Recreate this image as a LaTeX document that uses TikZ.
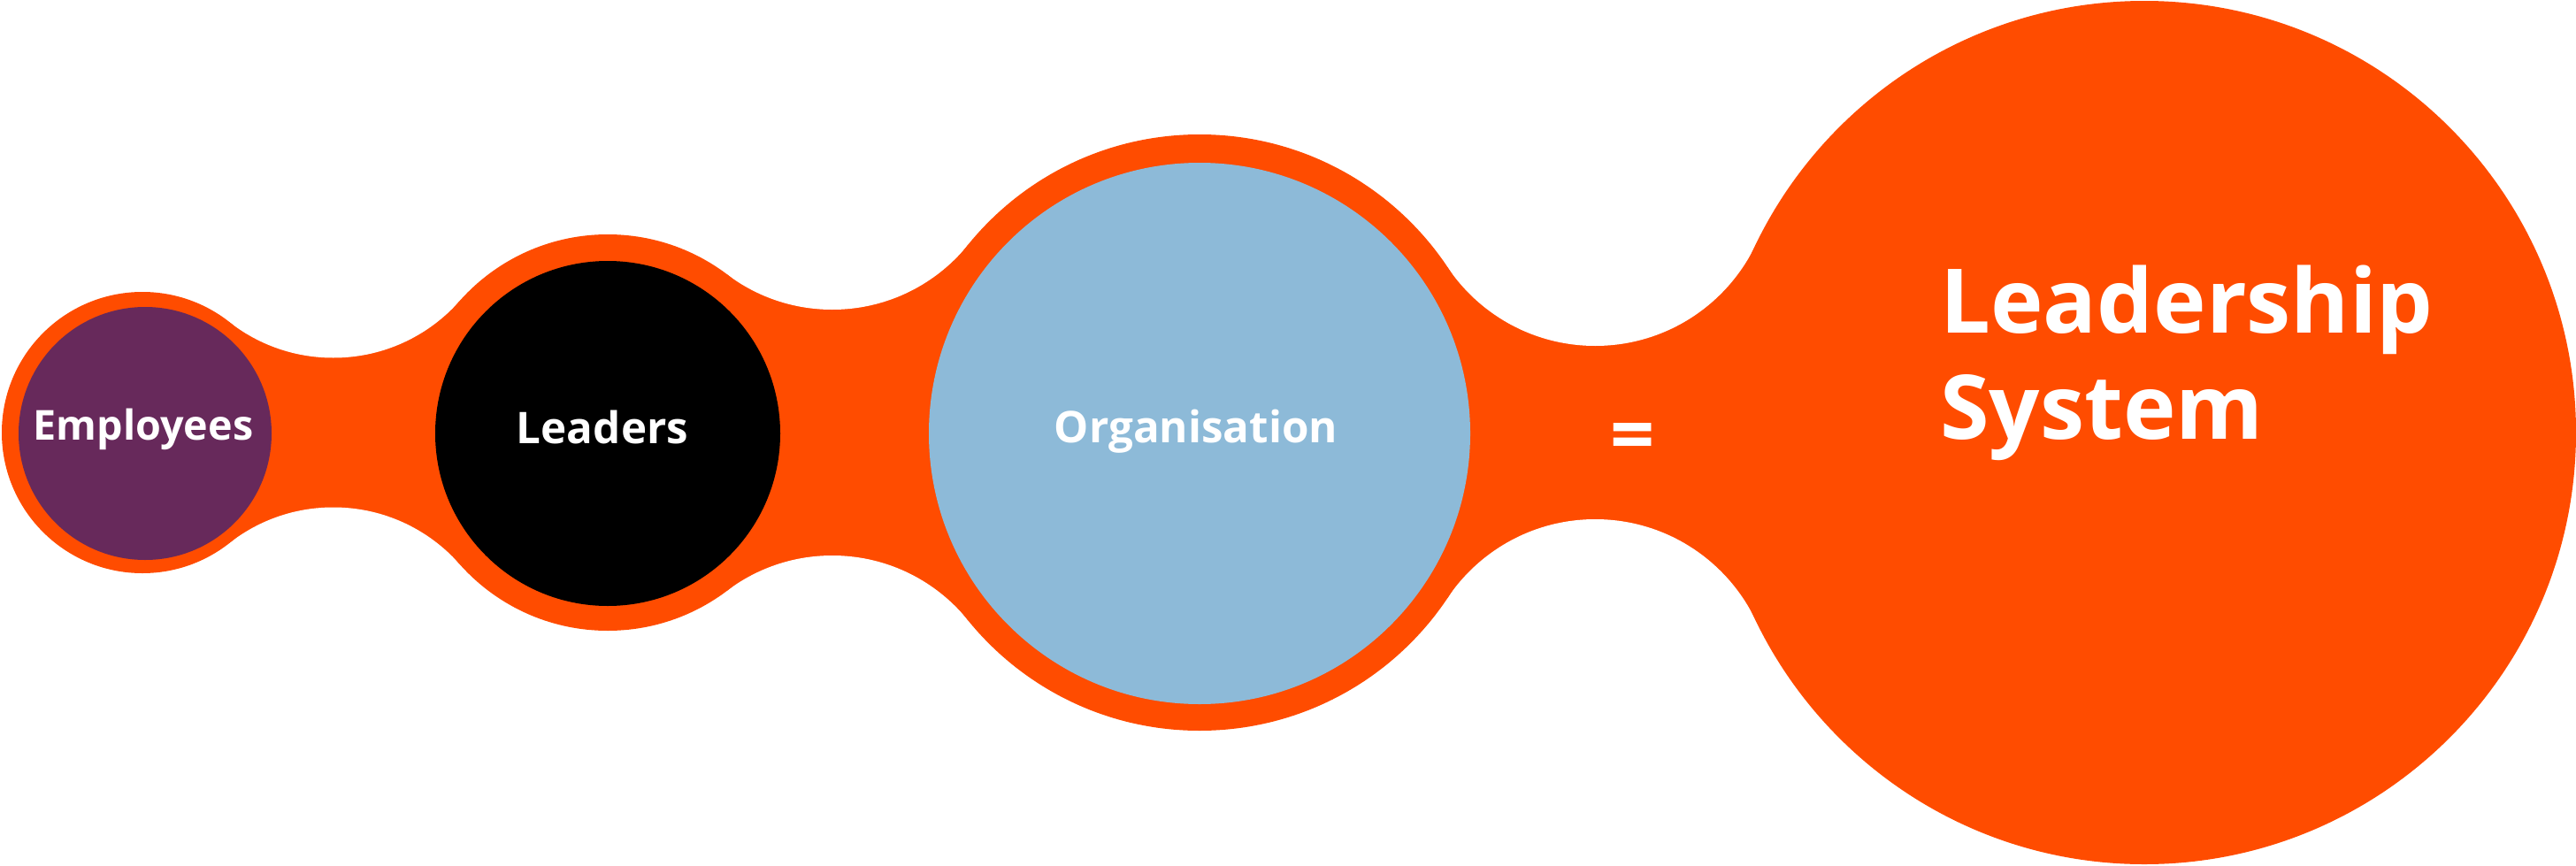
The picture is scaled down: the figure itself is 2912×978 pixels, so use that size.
\documentclass[tikz,border=0pt]{standalone}
\usepackage{fontspec}
\setmainfont{Open Sans}
\definecolor{blobOrange}{RGB}{255,76,0}
\definecolor{empPurple}{RGB}{103,41,91}
\definecolor{orgBlue}{RGB}{141,186,216}
\begin{document}
\begin{tikzpicture}[x=0.75pt,y=0.75pt,yscale=-1,xscale=1,
  blob/.style={fill=blobOrange},
  gap/.style={fill=white},
  lbl/.style={inner sep=0pt,text=white,font=\bfseries\fontsize{37}{44}\selectfont}]
\useasboundingbox (0,0) rectangle (2912,978);

% centres of the discs
\coordinate (cE) at (161,489);
\coordinate (cL) at (687,489);
\coordinate (cO) at (1356,489);
\coordinate (cS) at (2424,489);
% centres of the white gaps between them
\coordinate (gEt) at (376.77,213.79);
\coordinate (gEb) at (376.77,764.21);
\coordinate (gLt) at (940.79,152.64);
\coordinate (gLb) at (940.79,825.36);
\coordinate (gOt) at (1803.26,190.00);
\coordinate (gOb) at (1803.26,788.00);

%Shape: bridges
\fill[blob] (cE) -- (gEt) -- (cL) -- (gEb) -- cycle;
\fill[gap] (gEt) circle (190.71) (gEb) circle (190.71);
\fill[blob] (cL) -- (gLt) -- (cO) -- (gLb) -- cycle;
\fill[gap] (gLt) circle (197.36) (gLb) circle (197.36);
\fill[blob] (cO) -- (gOt) -- (cS) -- (gOb) -- cycle;
\fill[gap] (gOt) circle (201.00) (gOb) circle (201.00);

%Shape: Circle (outer rings)
\fill[blob] (cE) circle (159) (cL) circle (224) (cO) circle (337) (cS) circle (488);
%Shape: Circle (inner discs)
\fill[empPurple] (164,490) circle (143);
\fill[black] (687,490) circle (195);
\fill[orgBlue] (1356,490) circle (306);

% Text Node
\node[lbl,anchor=base,font=\bfseries\fontsize{35}{42}\selectfont] (tE) at (162,497) {Employees};
% Text Node
\node[lbl,anchor=base] (tL) at (681,501) {Leaders};
% Text Node
\node[lbl,anchor=base] (tO) at (1352,500) {Organisation};
% Text Node
\node[lbl,font=\bfseries\fontsize{66}{66}\selectfont] (eq) at (1846,500) {=};
% Text Node
\node[lbl,anchor=base west,align=left,font=\bfseries\fontsize{75.6}{90}\selectfont] (tS) at (2193,496) {Leadership\\System};
\end{tikzpicture}
\end{document}
